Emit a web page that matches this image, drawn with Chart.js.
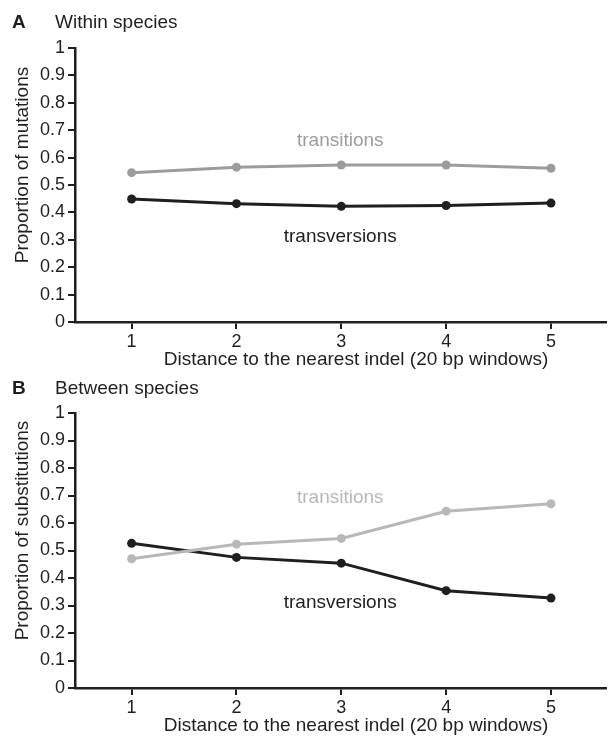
<!DOCTYPE html>
<html>
<head>
<meta charset="utf-8">
<script src="https://cdn.jsdelivr.net/npm/chart.js@4.4.1/dist/chart.umd.min.js"></script>
<style>
  body { margin: 0; background: #fff; }
  .panel { position: relative; width: 610px; }
</style>
</head>
<body>
<div class="panel" style="height:369px"><canvas id="panel_a"></canvas></div>
<div class="panel" style="height:370px"><canvas id="panel_b"></canvas></div>
<script>
// distance windows on the x axis
var janelas = [1, 2, 3, 4, 5];
var ticks_y = [0, 0.1, 0.2, 0.3, 0.4, 0.5, 0.6, 0.7, 0.8, 0.9, 1];

// A: within species
var a_transicoes = [0.545, 0.565, 0.573, 0.573, 0.561];
var a_transversoes = [0.449, 0.432, 0.422, 0.425, 0.434];
// B: between species
var b_transicoes = [0.470, 0.523, 0.544, 0.643, 0.670];
var b_transversoes = [0.526, 0.475, 0.454, 0.354, 0.327];

// labels written next to the lines: [text, x, y]
var a_rotulos = [["transitions", 2.99, 0.663], ["transversions", 2.99, 0.311]];
var b_rotulos = [["transitions", 2.99, 0.691], ["transversions", 2.99, 0.309]];

var PRETO = "#211e1f";
var FONTE = "'Liberation Sans', Arial, Helvetica, sans-serif";

function pontos(valores){
    return janelas.map(function(x, i){ return {x: x, y: valores[i]}; });
}

const textos = {
    id: 'textos',
    afterDraw: function(chart, args, opts){
        const ctx = chart.ctx;
        const area = chart.chartArea;
        const sx = chart.scales.x, sy = chart.scales.y;
        ctx.save();
        // panel letter and heading
        ctx.fillStyle = PRETO;
        ctx.textBaseline = 'alphabetic';
        ctx.textAlign = 'left';
        ctx.font = "bold 19px " + FONTE;
        ctx.fillText(opts.letra, 12, opts.base);
        ctx.font = "19px " + FONTE;
        ctx.fillText(opts.titulo, 55, opts.base);
        // axis titles
        ctx.textAlign = 'center';
        ctx.textBaseline = 'middle';
        ctx.fillText("Distance to the nearest indel (20 bp windows)", 356, area.bottom + 38);
        ctx.translate(23, (area.top + area.bottom) / 2 - 20);
        ctx.rotate(-Math.PI / 2);
        ctx.fillText(opts.titulo_y, 0, 0);
        ctx.restore();
        // series labels
        ctx.save();
        ctx.font = "19px " + FONTE;
        ctx.textAlign = 'center';
        ctx.textBaseline = 'middle';
        opts.rotulos.forEach(function(r, i){
            ctx.fillStyle = opts.cores[i];
            ctx.fillText(r[0], sx.getPixelForValue(r[1]), sy.getPixelForValue(r[2]));
        });
        ctx.restore();
    }
};

function renderiza_painel(id, transicoes, transversoes, cinza, cfg){
    const ctx = document.getElementById(id).getContext('2d');
    new Chart(ctx, {
        type: 'line',
        data: {
            datasets: [{
                label: 'transitions',
                data: pontos(transicoes),
                borderColor: cinza,
                backgroundColor: cinza,
                borderWidth: 3,
                pointRadius: 4.5,
                pointBorderWidth: 0
            }, {
                label: 'transversions',
                data: pontos(transversoes),
                borderColor: PRETO,
                backgroundColor: PRETO,
                borderWidth: 3,
                pointRadius: 4.5,
                pointBorderWidth: 0
            }]
        },
        options: {
            responsive: true,
            maintainAspectRatio: false,
            animation: false,
            layout: { padding: { top: cfg.topo, right: 2, left: 0, bottom: 0 } },
            plugins: {
                legend: { display: false },
                tooltip: { enabled: false },
                textos: {
                    letra: cfg.letra, titulo: cfg.titulo, titulo_y: cfg.titulo_y, base: cfg.base,
                    rotulos: cfg.rotulos, cores: [cinza, PRETO]
                }
            },
            scales: {
                x: {
                    type: 'linear',
                    min: 0.46,
                    max: 5.52,
                    afterBuildTicks: function(s){ s.ticks = janelas.map(function(v){ return {value: v}; }); },
                    afterFit: function(s){ s.height = cfg.base_x; },
                    grid: { drawOnChartArea: false, drawTicks: true, tickLength: 7, color: PRETO, lineWidth: 2 },
                    border: { color: PRETO, width: 2.5 },
                    ticks: { color: PRETO, font: { family: FONTE, size: 18 }, padding: 2, maxRotation: 0 }
                },
                y: {
                    min: 0,
                    max: 1,
                    afterBuildTicks: function(s){ s.ticks = ticks_y.map(function(v){ return {value: v}; }); },
                    afterFit: function(s){ s.width = 75; },
                    grid: { drawOnChartArea: false, drawTicks: true, tickLength: 7, color: PRETO, lineWidth: 2 },
                    border: { color: PRETO, width: 2.5 },
                    ticks: { color: PRETO, font: { family: FONTE, size: 18 }, padding: 3,
                        callback: function(v){ return String(Math.round(v * 10) / 10); } }
                }
            }
        },
        plugins: [textos]
    });
}

window.onload = function(){
    renderiza_painel('panel_a', a_transicoes, a_transversoes, "#9c9c9c", {
        letra: "A", titulo: "Within species", titulo_y: "Proportion of mutations",
        base: 28, topo: 48, base_x: 47, rotulos: a_rotulos
    });
    renderiza_painel('panel_b', b_transicoes, b_transversoes, "#b8b8b8", {
        letra: "B", titulo: "Between species", titulo_y: "Proportion of substitutions",
        base: 25, topo: 44, base_x: 51, rotulos: b_rotulos
    });
};
</script>
</body>
</html>
